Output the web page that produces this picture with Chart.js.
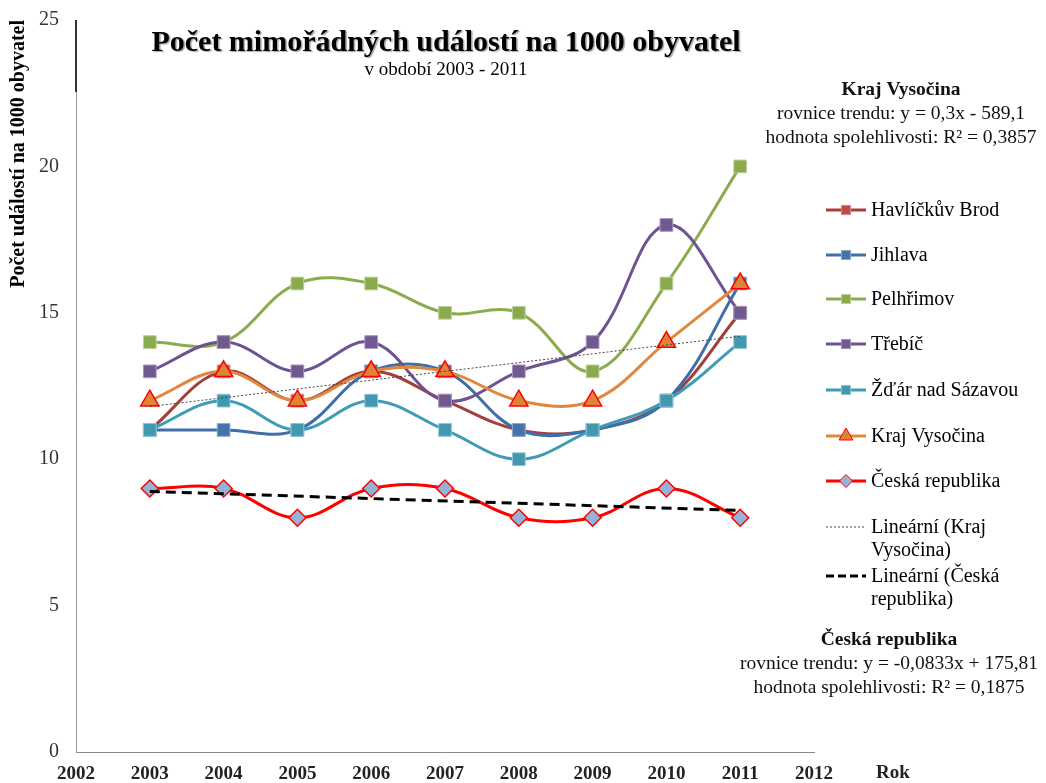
<!DOCTYPE html>
<html>
<head>
<meta charset="utf-8">
<script src="https://cdn.jsdelivr.net/npm/chart.js@4"></script>
<style>
html,body{margin:0;padding:0;background:#fff;}
#wrap{width:1046px;height:783px;position:relative;}
</style>
</head>
<body>
<div id="wrap"><canvas id="c" width="1046" height="783"></canvas></div>
<script>
// ---- Data ----
const xTickLabels = ['2002','2003','2004','2005','2006','2007','2008','2009','2010','2011','2012'];
const havlickuvBrod = [11, 13, 12, 13, 12, 11, 11, 12, 15];   // 2003..2011
const jihlava       = [11, 11, 11, 13, 13, 11, 11, 12, 16];
const pelhrimov     = [14, 14, 16, 16, 15, 15, 13, 16, 20];
const trebic        = [13, 14, 13, 14, 12, 13, 14, 18, 15];
const zdar          = [11, 12, 11, 12, 11, 10, 11, 12, 14];
const krajVysocina  = [12, 13, 12, 13, 13, 12, 12, 14, 16];
const ceskaRep      = [9, 9, 8, 9, 9, 8, 8, 9, 8];
const trendKrajEnds = [11.8, 14.2];   // linear trend at 2003 and 2011
const trendCREnds   = [8.9, 8.25];
const yTicks = [0, 5, 10, 15, 20, 25];

const seriesNames = ['Havlíčkův Brod','Jihlava','Pelhřimov','Třebíč','Žďár nad Sázavou','Kraj Vysočina','Česká republika'];
const trendNames = [['Lineární (Kraj','Vysočina)'], ['Lineární (Česká','republika)']];
const titleText = 'Počet mimořádných událostí na 1000 obyvatel';
const subtitleText = 'v období 2003 - 2011';
const yTitle = 'Počet událostí na 1000 obyvatel';
const xTitle = 'Rok';
const noteKraj = ['Kraj Vysočina', 'rovnice trendu: y = 0,3x - 589,1', 'hodnota spolehlivosti: R² = 0,3857'];
const noteCR = ['Česká republika', 'rovnice trendu: y = -0,0833x + 175,81', 'hodnota spolehlivosti: R² = 0,1875'];

// pad series to full category range (2002 and 2012 empty)
const pad = a => [null, ...a, null];
const trendPad = e => [null, e[0], null, null, null, null, null, null, null, e[1], null];

const SERIF = '"Liberation Serif", "Times New Roman", serif';

const styles = [
  {line:'#A23F3C', fill:'#BE4B48', border:'#D88A88', shape:'rect', r:9},
  {line:'#3F6EA9', fill:'#4673AA', border:'#8FA9CC', shape:'rect', r:9},
  {line:'#8BAB4E', fill:'#8AAA4E', border:'#BDD09A', shape:'rect', r:9},
  {line:'#6D5391', fill:'#71588F', border:'#A997BE', shape:'rect', r:9},
  {line:'#3E9CB6', fill:'#4198AF', border:'#8EC6D6', shape:'rect', r:9},
  {line:'#E0883D', fill:'#DD8439', border:'#FF0000', shape:'triangle', r:10.5},
  {line:'#FF0000', fill:'#95B3D7', border:'#FF0000', shape:'rectRot', r:8.5}
];
const seriesData = [havlickuvBrod, jihlava, pelhrimov, trebic, zdar, krajVysocina, ceskaRep];

const datasets = seriesData.map((d, i) => ({
  label: seriesNames[i],
  data: pad(d),
  borderColor: styles[i].line,
  backgroundColor: styles[i].fill,
  borderWidth: 3,
  tension: 0.38,
  spanGaps: true,
  pointStyle: styles[i].shape,
  pointRadius: styles[i].r,
  pointHoverRadius: styles[i].r,
  pointBackgroundColor: styles[i].fill,
  pointBorderColor: styles[i].border,
  pointBorderWidth: i >= 5 ? 1.5 : 1,
  order: 20 - i
}));
datasets.push({
  label: trendNames[0].join(' '),
  data: trendPad(trendKrajEnds),
  borderColor: '#444',
  borderWidth: 1,
  borderDash: [2, 2],
  pointRadius: 0,
  tension: 0,
  spanGaps: true,
  order: 2
});
datasets.push({
  label: trendNames[1].join(' '),
  data: trendPad(trendCREnds),
  borderColor: '#000',
  borderWidth: 3,
  borderDash: [10, 6],
  pointRadius: 0,
  tension: 0,
  spanGaps: true,
  order: 1
});

const overlay = {
  id: 'overlay',
  afterDraw(chart) {
    const ctx = chart.ctx;
    const area = chart.chartArea;
    ctx.save();
    // dark top part of the value axis
    ctx.strokeStyle = '#333';
    ctx.lineWidth = 2;
    ctx.beginPath();
    ctx.moveTo(area.left, area.top);
    ctx.lineTo(area.left, area.top + 72);
    ctx.stroke();

    ctx.fillStyle = '#000';
    ctx.textAlign = 'center';
    ctx.textBaseline = 'middle';
    // title
    ctx.shadowColor = 'rgba(0,0,0,0.35)';
    ctx.shadowOffsetX = 1.5;
    ctx.shadowOffsetY = 1.5;
    ctx.shadowBlur = 1;
    ctx.font = 'bold 30px ' + SERIF;
    ctx.fillText(titleText, 446, 43);
    ctx.shadowColor = 'rgba(0,0,0,0)';
    ctx.font = '19px ' + SERIF;
    ctx.fillText(subtitleText, 446, 70);

    // x axis title
    ctx.font = 'bold 19px ' + SERIF;
    ctx.fillStyle = '#222';
    ctx.fillText(xTitle, 893, 773);

    // trend notes
    const drawNote = (lines, cx, y0) => {
      lines.forEach((t, k) => {
        ctx.font = (k === 0 ? 'bold ' : '') + '19.5px ' + SERIF;
        ctx.fillStyle = '#111';
        ctx.fillText(t, cx, y0 + k * 24);
      });
    };
    drawNote(noteKraj, 901, 90);
    drawNote(noteCR, 889, 640);

    // legend
    const lx0 = 826, lx1 = 866, tx = 871;
    const ys = [210, 255, 299, 344, 390, 436, 481, 527, 576];
    ctx.textAlign = 'left';
    ctx.font = '20px ' + SERIF;
    for (let i = 0; i < 7; i++) {
      const st = styles[i], y = ys[i];
      ctx.strokeStyle = st.line;
      ctx.lineWidth = 3;
      ctx.setLineDash([]);
      ctx.beginPath(); ctx.moveTo(lx0, y); ctx.lineTo(lx1, y); ctx.stroke();
      ctx.fillStyle = st.fill;
      ctx.strokeStyle = st.border;
      ctx.lineWidth = 1;
      Chart.helpers.drawPoint(ctx, {
        pointStyle: st.shape,
        radius: st.shape === 'rect' ? 6.5 : (st.shape === 'triangle' ? 8 : 6.5),
        rotation: 0,
        borderWidth: 1
      }, (lx0 + lx1) / 2, y);
      ctx.fillStyle = '#000';
      ctx.fillText(seriesNames[i], tx, y + 1);
    }
    // trend legend items
    ctx.fillStyle = '#000';
    ctx.strokeStyle = '#444';
    ctx.lineWidth = 1;
    ctx.setLineDash([2, 2]);
    ctx.beginPath(); ctx.moveTo(lx0, ys[7]); ctx.lineTo(lx1, ys[7]); ctx.stroke();
    ctx.strokeStyle = '#000';
    ctx.lineWidth = 3;
    ctx.setLineDash([8, 4]);
    ctx.beginPath(); ctx.moveTo(lx0, ys[8]); ctx.lineTo(lx1, ys[8]); ctx.stroke();
    ctx.setLineDash([]);
    trendNames[0].forEach((t, k) => ctx.fillText(t, tx, ys[7] + 1 + k * 23));
    trendNames[1].forEach((t, k) => ctx.fillText(t, tx, ys[8] + 1 + k * 23));
    ctx.restore();
  }
};

new Chart(document.getElementById('c'), {
  type: 'line',
  data: { labels: xTickLabels, datasets },
  plugins: [overlay],
  options: {
    responsive: false,
    animation: false,
    layout: { padding: { top: 20, right: 232, left: 0, bottom: 0 } },
    plugins: { legend: { display: false }, tooltip: { enabled: false }, title: { display: false } },
    scales: {
      x: {
        type: 'category',
        offset: false,
        grid: { display: false, drawTicks: false },
        border: { display: true, color: '#888', width: 1 },
        ticks: {
          autoSkip: false, maxRotation: 0, padding: 11,
          color: '#222',
          font: { family: SERIF, size: 19, weight: 'bold' }
        },
        afterFit: s => { s.height = 31; s.paddingLeft = 0; s.paddingRight = 0; }
      },
      y: {
        min: 0, max: 25,
        afterBuildTicks: s => { s.ticks = yTicks.map(v => ({ value: v })); },
        grid: { display: false, drawTicks: false },
        border: { display: true, color: '#999', width: 1 },
        ticks: {
          padding: 17,
          color: '#333',
          font: { family: SERIF, size: 20 }
        },
        title: {
          display: true, text: yTitle, align: 'end',
          color: '#000',
          font: { family: SERIF, size: 20, weight: 'bold' },
          padding: { top: 7, bottom: 0 }
        },
        afterFit: s => { s.width = 76; s.paddingTop = 0; s.paddingBottom = 0; }
      }
    }
  }
});
</script>
</body>
</html>
